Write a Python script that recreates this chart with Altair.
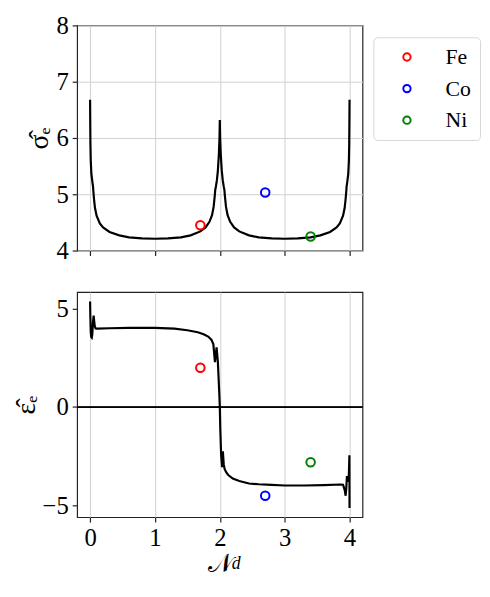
import altair as alt
import pandas as pd

# ---- data ----
sigma_x = [0.000, 0.002, 0.005, 0.010, 0.020, 0.035, 0.045, 0.050, 0.060, 0.075, 0.100, 0.150, 0.200,
           0.300, 0.450, 0.600, 0.800, 1.000, 1.200, 1.400, 1.550, 1.700, 1.780, 1.840, 1.880, 1.905,
           1.920, 1.930, 1.940, 1.955, 1.970, 1.985, 1.995, 2.000, 2.005, 2.015, 2.030, 2.045, 2.060,
           2.070, 2.080, 2.095, 2.120, 2.160, 2.220, 2.300, 2.450, 2.600, 2.800, 3.000, 3.200, 3.400,
           3.550, 3.700, 3.800, 3.850, 3.900, 3.925, 3.940, 3.950, 3.955, 3.965, 3.980, 3.990, 3.995,
           3.998, 4.000]
sigma_y = [6.68, 6.30, 5.90, 5.60, 5.36, 5.22, 5.14, 5.06, 4.92, 4.76, 4.62, 4.48, 4.41,
           4.33, 4.27, 4.235, 4.215, 4.21, 4.215, 4.235, 4.27, 4.34, 4.41, 4.51, 4.63, 4.78,
           4.95, 5.08, 5.14, 5.25, 5.42, 5.70, 6.00, 6.32, 6.00, 5.70, 5.42, 5.25, 5.14,
           5.08, 4.95, 4.78, 4.63, 4.51, 4.41, 4.34, 4.27, 4.235, 4.215, 4.21, 4.215, 4.235,
           4.27, 4.33, 4.41, 4.48, 4.62, 4.76, 4.92, 5.06, 5.14, 5.22, 5.36, 5.60, 5.90,
           6.30, 6.68]

eps_x = [0.000, 0.004, 0.010, 0.018, 0.026, 0.034, 0.044, 0.055, 0.062, 0.072, 0.085, 0.110, 0.300,
         0.600, 1.000, 1.300, 1.500, 1.660, 1.750, 1.820, 1.870, 1.900, 1.925, 1.950, 1.970, 1.985,
         1.993, 2.000, 2.007, 2.020, 2.035, 2.047, 2.060, 2.075, 2.100, 2.130, 2.200, 2.300, 2.450,
         2.600, 2.800, 3.000, 3.300, 3.600, 3.860, 3.900, 3.925, 3.940, 3.950, 3.960, 3.975, 3.990,
         3.998, 4.000]
eps_y = [5.36, 4.60, 3.80, 3.55, 3.52, 3.70, 4.30, 4.64, 4.40, 4.10, 3.99, 3.98, 4.00,
         4.02, 4.02, 3.98, 3.90, 3.80, 3.70, 3.58, 3.42, 3.20, 2.28, 3.03, 2.28, 1.20,
         0.60, 0.00, -1.08, -2.42, -3.05, -2.25, -2.90, -3.15, -3.32, -3.45, -3.63, -3.75, -3.88,
         -3.92, -3.95, -3.98, -3.98, -3.96, -3.93, -3.94, -4.20, -4.50, -4.10, -3.50, -3.80, -3.40,
         -2.45, -5.13]

elements = ["Fe", "Co", "Ni"]
elem_nd = [1.7, 2.7, 3.4]
elem_sigma = [4.45, 5.03, 4.25]
elem_eps = [2.0, -4.5, -2.8]
elem_colors = ["#ff0000", "#0000ff", "#008000"]

FONT = "Liberation Serif"
W, H = 289, 228

sig_df = pd.DataFrame({"nd": sigma_x, "v": sigma_y, "i": range(len(sigma_x))})
eps_df = pd.DataFrame({"nd": eps_x, "v": eps_y, "i": range(len(eps_x))})
pts_df = pd.DataFrame({"element": elements, "nd": elem_nd, "sigma": elem_sigma, "eps": elem_eps})

xscale = alt.Scale(domain=[-0.2, 4.2], nice=False, zero=False)
color_scale = alt.Scale(domain=elements, range=elem_colors)

# ---- top panel ----
top_x = alt.X("nd:Q", scale=xscale,
              axis=alt.Axis(values=[0, 1, 2, 3, 4], labels=False, title=None))
top_line = alt.Chart(sig_df).mark_line(color="black", strokeWidth=2.2).encode(
    x=top_x,
    y=alt.Y("v:Q", scale=alt.Scale(domain=[4, 8], nice=False, zero=False),
            axis=alt.Axis(values=[4, 5, 6, 7, 8], format="d", title="σ̂ₑ")),
    order="i:Q",
)
top_pts = alt.Chart(pts_df).mark_point(shape="circle", filled=False, size=75, strokeWidth=2, opacity=1).encode(
    x=alt.X("nd:Q", scale=xscale),
    y=alt.Y("sigma:Q"),
    color=alt.Color("element:N", scale=color_scale,
                    legend=alt.Legend(title=None, orient="none", legendX=300, legendY=12,
                                      strokeColor="#d6d6d6", cornerRadius=4, padding=9,
                                      fillColor="white", labelFont=FONT, labelFontSize=22,
                                      labelColor="black", symbolType="circle", symbolSize=55,
                                      symbolStrokeWidth=2, symbolFillColor="transparent",
                                      labelOffset=28, symbolOffset=14, rowPadding=10,
                                      labelLimit=200)),
)
top = alt.layer(top_line, top_pts).properties(width=W, height=H)

# ---- bottom panel ----
bot_x = alt.X("nd:Q", scale=xscale,
              axis=alt.Axis(values=[0, 1, 2, 3, 4], title="𝒩", format="d"))
bscale = alt.Scale(domain=[-5.59, 5.84], nice=False, zero=False)
bot_line = alt.Chart(eps_df).mark_line(color="black", strokeWidth=2.2).encode(
    x=bot_x,
    y=alt.Y("v:Q", scale=bscale, axis=alt.Axis(values=[-5, 0, 5], title="ε̂ₑ")),
    order="i:Q",
)
zero_rule = alt.Chart(pts_df).mark_rule(color="black", strokeWidth=1.3).encode(y=alt.datum(0))
bot_pts = alt.Chart(pts_df).mark_point(shape="circle", filled=False, size=75, strokeWidth=2, opacity=1).encode(
    x=alt.X("nd:Q", scale=xscale),
    y=alt.Y("eps:Q", scale=bscale),
    color=alt.Color("element:N", scale=color_scale, legend=None),
)
sub_d = alt.Chart(pd.DataFrame({"t": ["d"]})).mark_text(
    font=FONT, fontSize=18, fontStyle="italic", align="left", baseline="alphabetic", color="black"
).encode(text="t:N", x=alt.value(W / 2 + 12), y=alt.value(H + 52))
bottom = alt.layer(zero_rule, bot_line, bot_pts, sub_d).properties(width=W, height=H)

chart = alt.vconcat(top, bottom, spacing=27).resolve_scale(color="independent").configure(
    font=FONT,
    padding={"left": 3, "top": 1, "right": 0, "bottom": 0},
).configure_view(
    stroke="#222222", strokeWidth=1.2
).configure_axis(
    labelFont=FONT, labelFontSize=25, labelColor="black",
    titleFont=FONT, titleFontSize=28, titleColor="black", titleFontWeight="normal",
    gridColor="#d0d0d0", gridWidth=1,
    domain=False, tickColor="#222222", tickSize=5, tickWidth=1.2,
    labelPadding=4,
).configure_axisY(
    titlePadding=2,
).configure_axisX(
    titlePadding=0, titleFontSize=26,
)

chart.save("out.html", embed_options={"renderer": "svg", "actions": False})
